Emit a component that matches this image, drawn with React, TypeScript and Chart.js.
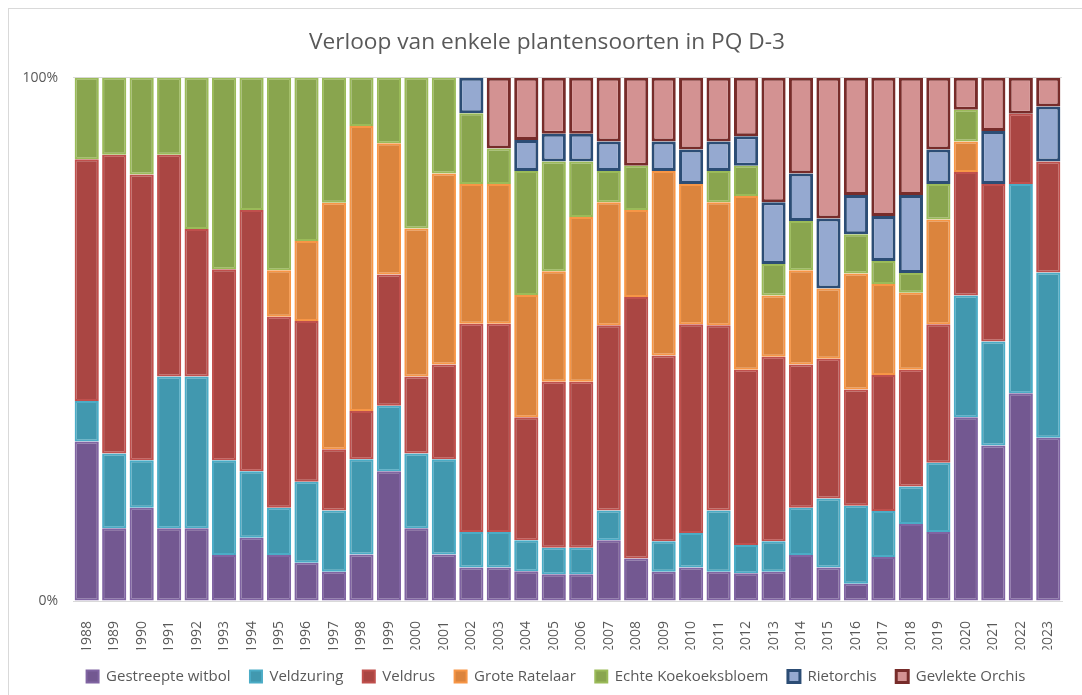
import React, { useEffect, useRef } from "react";
import { Chart, registerables } from "chart.js";

Chart.register(...registerables);

const years = [
  "1988", "1989", "1990", "1991", "1992", "1993", "1994", "1995", "1996", "1997",
  "1998", "1999", "2000", "2001", "2002", "2003", "2004", "2005", "2006", "2007",
  "2008", "2009", "2010", "2011", "2012", "2013", "2014", "2015", "2016", "2017",
  "2018", "2019", "2020", "2021", "2022", "2023",
];

const gestreepteWitbol = [
  30.5, 13.9, 17.8, 13.9, 13.9, 8.8, 12.1, 8.8, 7.3, 5.6,
  8.9, 24.8, 13.9, 8.9, 6.4, 6.4, 5.7, 5.1, 5.1, 11.6,
  8.1, 5.6, 6.4, 5.6, 5.3, 5.6, 8.8, 6.4, 3.3, 8.4,
  14.7, 13.2, 35.1, 29.7, 39.7, 31.2,
];
const veldzuring = [
  7.7, 14.3, 9.1, 29.0, 29.0, 18.1, 12.7, 9.0, 15.5, 11.7,
  18.2, 12.5, 14.3, 18.2, 6.8, 6.8, 5.9, 5.1, 5.1, 5.7,
  0, 5.8, 6.6, 11.7, 5.4, 5.8, 9.0, 13.2, 14.9, 8.8,
  7.2, 13.2, 23.3, 19.9, 40.0, 31.6,
];
const veldrus = [
  46.2, 57.1, 54.6, 42.4, 28.2, 36.5, 49.9, 36.5, 30.7, 11.7,
  9.2, 25.1, 14.7, 18.1, 39.8, 39.8, 23.5, 31.7, 31.7, 35.4,
  50.0, 35.5, 39.9, 35.4, 33.5, 35.3, 27.4, 26.7, 22.2, 26.0,
  22.3, 26.5, 23.6, 30.1, 13.4, 21.2,
];
const groteRatelaar = [
  0, 0, 0, 0, 0, 0, 0, 8.9, 15.3, 47.1,
  54.5, 25.1, 28.3, 36.5, 26.7, 26.7, 23.4, 21.1, 31.5, 23.5,
  16.6, 35.3, 26.8, 23.5, 33.2, 11.7, 18.0, 13.4, 22.2, 17.4,
  14.7, 20.0, 5.8, 0, 0, 0,
];
const echteKoekoeksbloem = [
  15.6, 14.7, 18.5, 14.7, 28.9, 36.6, 25.3, 36.8, 31.2, 23.9,
  9.2, 12.5, 28.8, 18.3, 13.5, 6.8, 23.7, 21.0, 10.6, 6.0,
  8.5, 0, 0, 6.0, 5.8, 6.0, 9.4, 0, 7.5, 4.4,
  3.8, 6.8, 6.1, 0, 0, 0,
];
const rietorchis = [
  0, 0, 0, 0, 0, 0, 0, 0, 0, 0,
  0, 0, 0, 0, 6.8, 0, 5.9, 5.3, 5.3, 5.6,
  0, 5.6, 6.6, 5.6, 5.6, 11.8, 9.1, 13.4, 7.5, 8.6,
  14.9, 6.6, 0, 10.1, 0, 10.5,
];
const gevlekteOrchis = [
  0, 0, 0, 0, 0, 0, 0, 0, 0, 0,
  0, 0, 0, 0, 0, 13.5, 11.9, 10.7, 10.7, 12.2,
  16.8, 12.2, 13.7, 12.2, 11.2, 23.8, 18.3, 26.9, 22.4, 26.4,
  22.4, 13.7, 6.1, 10.2, 6.9, 5.5,
];

const seriesNames = [
  "Gestreepte witbol",
  "Veldzuring",
  "Veldrus",
  "Grote Ratelaar",
  "Echte Koekoeksbloem",
  "Rietorchis",
  "Gevlekte Orchis",
];
const fillColors = ["#735891", "#4198AF", "#AA4643", "#DB843D", "#89A54E", "#95A9D0", "#D39292"];
const borderColors = ["#8064A2", "#4BACC6", "#C0504D", "#F79646", "#9BBB59", "#2C4D75", "#772C2A"];
const borderWidths = [2, 2, 2, 2, 2, 3, 3];

const titleText = "Verloop van enkele plantensoorten in PQ D-3";
const FONT = "'Open Sans', 'Liberation Sans', sans-serif";
const TEXT = "#595959";

const legendShift = {
  id: "legendShift",
  afterLayout(chart: any) {
    const l = chart.legend;
    if (l) {
      l.left += 9;
      l.right += 9;
    }
  },
};

export default function App() {
  const ref = useRef<HTMLCanvasElement | null>(null);

  useEffect(() => {
    if (!ref.current) return;
    const values = [
      gestreepteWitbol,
      veldzuring,
      veldrus,
      groteRatelaar,
      echteKoekoeksbloem,
      rietorchis,
      gevlekteOrchis,
    ];
    const chart = new Chart(ref.current, {
      type: "bar",
      data: {
        labels: years,
        datasets: values.map((d, i) => ({
          label: seriesNames[i],
          data: d.map((v) => (v === 0 ? null : v)),
          backgroundColor: fillColors[i],
          borderColor: borderColors[i],
          borderWidth: borderWidths[i],
          borderSkipped: false,
          barPercentage: 0.88,
          categoryPercentage: 1.0,
          yAxisID: "y",
        })),
      },
      plugins: [legendShift],
      options: {
        animation: false,
        responsive: false,
        devicePixelRatio: 1,
        layout: { padding: { left: 18, right: 6, top: 0, bottom: 1 } },
        plugins: {
          title: {
            display: true,
            text: titleText,
            color: TEXT,
            font: { family: FONT, size: 22.7, weight: "normal" },
            padding: { top: 28.5, bottom: 22 },
          },
          legend: {
            position: "bottom",
            labels: {
              color: TEXT,
              font: { family: FONT, size: 15 },
              boxWidth: 12,
              boxHeight: 12,
              padding: 19.5,
            },
          },
          tooltip: { enabled: false },
        },
        scales: {
          x: {
            stacked: true,
            grid: { display: false },
            border: { color: "#d9d9d9" },
            afterFit: (s: any) => {
              s.height = 48.5;
            },
            ticks: {
              color: TEXT,
              font: { family: FONT, size: 14 },
              maxRotation: 90,
              minRotation: 90,
              autoSkip: false,
              padding: 12,
            },
          },
          y: {
            stacked: true,
            min: 0,
            max: 100,
            afterFit: (s: any) => {
              s.width = 55;
            },
            grid: { color: "#d9d9d9", drawTicks: false },
            border: { display: false },
            ticks: {
              stepSize: 100,
              color: TEXT,
              font: { family: FONT, size: 14 },
              padding: 15,
              callback: (v: any) => v + "%",
            },
          },
          yRight: {
            position: "right",
            display: true,
            grid: { display: false, drawTicks: false },
            border: { display: false },
            ticks: { display: false },
            afterFit: (s: any) => {
              s.width = 14;
            },
          },
        },
      },
    });
    return () => chart.destroy();
  }, []);

  return (
    <div
      style={{
        position: "fixed",
        left: 0,
        top: 0,
        width: 1082,
        height: 695,
        overflow: "hidden",
        background: "#fff",
      }}
    >
      <div
        style={{
          position: "absolute",
          left: 8,
          top: 8,
          width: 1100,
          height: 720,
          border: "1px solid #d9d9d9",
          boxSizing: "border-box",
        }}
      />
      <canvas ref={ref} width={1082} height={695} style={{ position: "absolute", left: 0, top: 0 }} />
    </div>
  );
}
